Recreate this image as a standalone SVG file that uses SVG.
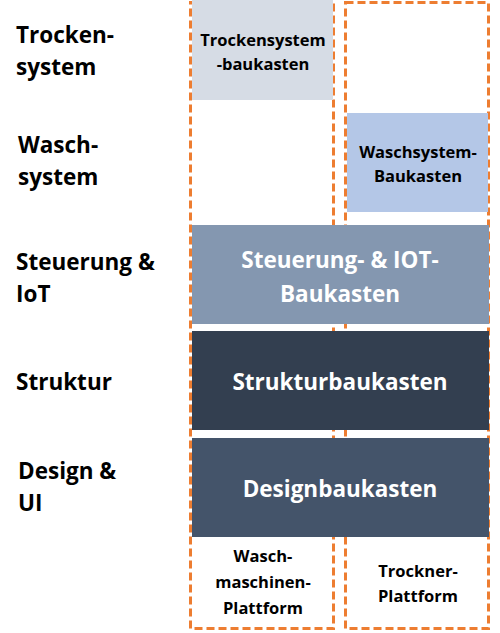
<svg xmlns="http://www.w3.org/2000/svg" width="500" height="633" viewBox="0 0 500 633">
<style>
text{font-family:"Open Sans","Liberation Sans",sans-serif;font-weight:bold;}
.lab{font-size:22.5px;fill:#000;}
.mid{text-anchor:middle;}
.sm{font-size:16.5px;fill:#000;}
.big{font-size:22.5px;fill:#fff;}
.plat{fill:none;stroke:#ed7d31;stroke-width:3;stroke-dasharray:8 4;}
</style>
<rect width="500" height="633" fill="#fff"/>
<g id="platforms">
<rect id="wm-platform-box" class="plat" x="190.5" y="2.5" width="143" height="626"/>
<rect id="tr-platform-box" class="plat" x="345.5" y="2.5" width="143" height="626"/>
</g>
<g id="row-labels">
<text class="lab" x="16" y="43">Trocken-</text>
<text class="lab" x="16" y="75">system</text>
<text class="lab" x="18" y="153">Wasch-</text>
<text class="lab" x="18" y="185">system</text>
<text class="lab" x="16" y="270">Steuerung &amp;</text>
<text class="lab" x="16" y="302">IoT</text>
<text class="lab" x="16" y="390">Struktur</text>
<text class="lab" x="18" y="479">Design &amp;</text>
<text class="lab" x="18" y="511">UI</text>
</g>
<g id="trockensystem-baukasten">
<rect x="192" y="0" width="141" height="100" fill="#d6dce5"/>
<text class="sm mid" x="263" y="46">Trockensystem</text>
<text class="sm mid" x="263" y="70">-baukasten</text>
</g>
<g id="waschsystem-baukasten">
<rect x="347" y="113" width="141" height="99" fill="#b4c7e7"/>
<text class="sm mid" x="418" y="158">Waschsystem-</text>
<text class="sm mid" x="418" y="182">Baukasten</text>
</g>
<g id="steuerung-iot-baukasten">
<rect x="192" y="225" width="297" height="99" fill="#8497b0"/>
<text class="big mid" x="340" y="268">Steuerung- &amp; IOT-</text>
<text class="big mid" x="340" y="302">Baukasten</text>
</g>
<g id="strukturbaukasten">
<rect x="192" y="331" width="297" height="99" fill="#333f50"/>
<text class="big mid" x="340" y="390">Strukturbaukasten</text>
</g>
<g id="designbaukasten">
<rect x="192" y="438" width="297" height="99" fill="#44546a"/>
<text class="big mid" x="340" y="497">Designbaukasten</text>
</g>
<g id="waschmaschinen-plattform">
<text class="sm mid" x="263" y="562">Wasch-</text>
<text class="sm mid" x="263" y="588">maschinen-</text>
<text class="sm mid" x="263" y="614">Plattform</text>
</g>
<g id="trockner-plattform">
<text class="sm mid" x="418" y="577">Trockner-</text>
<text class="sm mid" x="418" y="602">Plattform</text>
</g>
<g id="connectors"/>
</svg>
